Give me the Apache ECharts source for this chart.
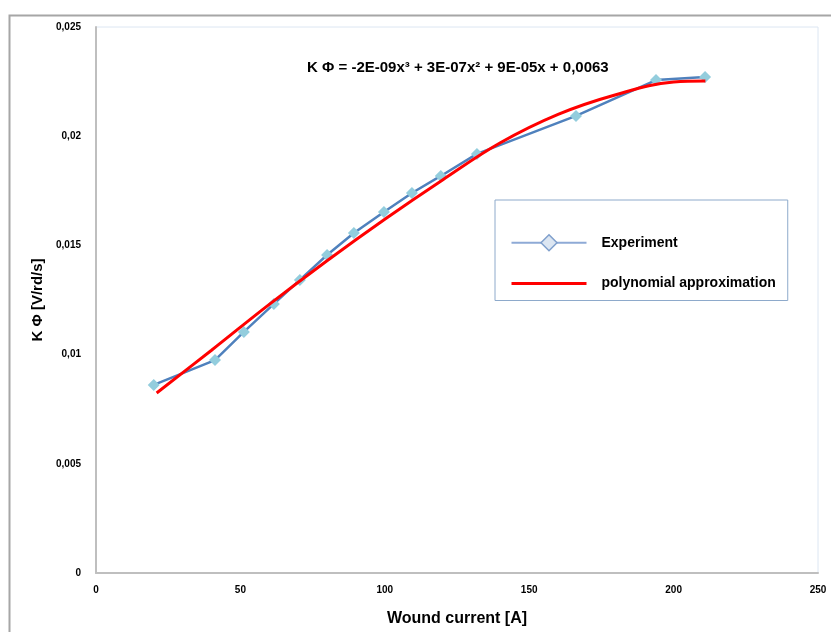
<!DOCTYPE html>
<html>
<head>
<meta charset="utf-8">
<script src="https://cdn.jsdelivr.net/npm/echarts@6/dist/echarts.min.js"></script>
<style>
  html, body { margin: 0; padding: 0; background: #fff; }
  #chart { width: 831px; height: 632px; }
</style>
</head>
<body>
<div id="chart"></div>
<script>
// measured points (wound current [A], K Phi [V/rd/s])
var expCurrent = [20, 41.2, 51.2, 61.6, 70.6, 80, 89.3, 99.7, 109.4, 119.4, 131.9, 166.2, 193.9, 210.9];
var expKphi = [0.00861, 0.00975, 0.01104, 0.01232, 0.01342, 0.01456, 0.01557, 0.01653, 0.0174, 0.01818, 0.01919, 0.02093, 0.02257, 0.02271];

// trend line
var polyCurrent = [21, 40, 60, 80, 100, 120, 140, 160, 180, 200, 211];
var polyKphi = [0.00824, 0.0102, 0.0123, 0.0143, 0.0162, 0.018, 0.0197, 0.021, 0.0219, 0.02248, 0.02253];

var equation = 'K Φ = -2E-09x³ + 3E-07x² + 9E-05x + 0,0063';

var font = '"Liberation Sans Narrow", "Arial Narrow", sans-serif';

function zip(xs, ys) {
  var out = [];
  for (var i = 0; i < xs.length; i++) out.push([xs[i], ys[i]]);
  return out;
}

var option = {
  animation: false,
  backgroundColor: '#fff',
  grid: {
    left: 96, right: 13, top: 27, bottom: 59,
    show: true,
    borderColor: '#dce6f2',
    borderWidth: 1
  },
  xAxis: {
    type: 'value',
    min: 0, max: 250, interval: 50,
    name: 'Wound current [A]',
    nameLocation: 'middle',
    nameGap: 38,
    nameTextStyle: { fontFamily: font, fontWeight: 'bold', fontSize: 16, color: '#000' },
    axisLine: { lineStyle: { color: '#bfbfbf', width: 2 } },
    axisTick: { show: false },
    splitLine: { show: false },
    axisLabel: { margin: 12, fontFamily: font, fontWeight: 'bold', fontSize: 10, color: '#000' }
  },
  yAxis: {
    type: 'value',
    min: 0, max: 0.025, interval: 0.005,
    name: 'K Φ [V/rd/s]',
    nameLocation: 'middle',
    nameGap: 51,
    nameTextStyle: { fontFamily: font, fontWeight: 'bold', fontSize: 15, color: '#000' },
    axisLine: { show: true, lineStyle: { color: '#bfbfbf', width: 2 } },
    axisTick: { show: false },
    splitLine: { show: false },
    axisLabel: {
      margin: 15, fontFamily: font, fontWeight: 'bold', fontSize: 10, color: '#000',
      formatter: function (v) { return String(+v.toFixed(3)).replace('.', ','); }
    }
  },
  legend: {
    orient: 'vertical',
    left: 495, top: 200,
    padding: [34, 12, 9, 15],
    itemWidth: 75, itemHeight: 20, itemGap: 24,
    borderColor: '#8eaacb', borderWidth: 1,
    textStyle: { fontFamily: font, fontWeight: 'bold', fontSize: 14, color: '#000', padding: [0, 0, 0, 10] },
    data: [
      { name: 'Experiment',
        itemStyle: { color: '#dce6f2', borderColor: '#7f9fcc', borderWidth: 1.5 },
        lineStyle: { color: '#8eaad6', width: 2 } },
      { name: 'polynomial approximation',
        itemStyle: { color: 'rgba(0,0,0,0)', borderWidth: 0 },
        lineStyle: { color: '#ff0000', width: 3 } }
    ]
  },
  graphic: [
    { type: 'rect', left: 7, top: 13, shape: { width: 900, height: 700 },
      style: { fill: 'none', stroke: '#a6a6a6', lineWidth: 2 }, silent: true },
    { type: 'text', left: 307, top: 60,
      style: { text: equation, fontFamily: font, fontWeight: 'bold', fontSize: 15, fill: '#000' } }
  ],
  series: [
    {
      name: 'Experiment',
      type: 'line',
      data: zip(expCurrent, expKphi),
      symbol: 'diamond',
      symbolSize: 12,
      itemStyle: { color: '#93cddd' },
      lineStyle: { color: '#4f81bd', width: 2.5 },
      z: 2
    },
    {
      name: 'polynomial approximation',
      type: 'line',
      data: zip(polyCurrent, polyKphi),
      smooth: 0.4,
      symbol: 'none',
      lineStyle: { color: '#ff0000', width: 3 },
      z: 3
    }
  ]
};

var myChart = echarts.init(document.getElementById('chart'));
myChart.setOption(option);
</script>
</body>
</html>
